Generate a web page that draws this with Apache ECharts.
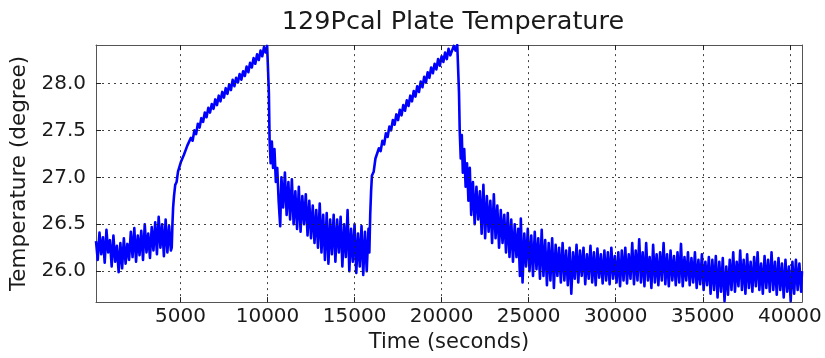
<!DOCTYPE html>
<html>
<head>
<meta charset="utf-8">
<script src="https://cdn.jsdelivr.net/npm/echarts@6/dist/echarts.min.js"></script>
<style>
html,body{margin:0;padding:0;background:#fff;}
#chart{width:825px;height:358px;}
</style>
</head>
<body>
<div id="chart"></div>
<script>
// ---- Data: [time (s), temperature (degree)] ----
const baseline1 = [
[150,26.32],[250,26.12],[350,26.41],[450,26.18],[550,26.36],[650,26.09],[750,26.44],[850,26.2],[950,26.33],[1050,26.05],
[1150,26.38],[1250,26.1],[1350,26.27],[1450,25.99],[1550,26.3],[1650,26.03],[1750,26.35],[1850,26.08],[1950,26.29],[2050,26.12],
[2150,26.42],[2250,26.15],[2350,26.46],[2450,26.1],[2550,26.38],[2650,26.17],[2750,26.43],[2850,26.12],[2950,26.5],[3050,26.2],
[3150,26.4],[3250,26.14],[3350,26.47],[3450,26.22],[3550,26.52],[3650,26.18],[3750,26.58],[3850,26.25],[3950,26.5],[4050,26.16],
[4150,26.55],[4250,26.2],[4350,26.48],[4450,26.22]
];
const rise1 = [
[4500,26.25],[4540,26.5],[4580,26.68],[4630,26.8],[4700,26.92],[4780,26.95],[4860,27.06],[4940,27.07],[5020,27.16],[5100,27.15],
[5200,27.24],[5300,27.24],[5400,27.34],[5500,27.32],[5600,27.42],[5700,27.39],[5800,27.5],[5900,27.46],[6000,27.57],[6100,27.53],
[6200,27.63],[6300,27.59],[6400,27.69],[6500,27.64],[6600,27.74],[6700,27.69],[6800,27.78],[6900,27.73],[7000,27.83],[7100,27.77],
[7200,27.87],[7300,27.81],[7400,27.91],[7500,27.85],[7600,27.95],[7700,27.89],[7800,27.99],[7900,27.93],[8000,28.04],[8100,27.97],
[8200,28.06],[8300,28.01],[8400,28.1],[8500,28.04],[8600,28.13],[8700,28.08],[8800,28.18],[8900,28.12],[9000,28.22],[9100,28.17],
[9200,28.27],[9300,28.21],[9400,28.31],[9500,28.25],[9600,28.35],[9700,28.29],[9800,28.39],[9900,28.33],[9980,28.4],[10040,28.41]
];
const decay1 = [
[10080,27.9],[10120,27.4],[10180,27.15],[10250,27.38],[10320,27.1],[10400,27.3],[10480,26.95],[10560,27.1],[10640,26.75],[10730,26.48],
[10800,27.0],[10900,26.68],[11000,27.05],[11100,26.6],[11200,26.95],[11300,26.55],[11400,26.98],[11500,26.5],[11600,26.85],[11700,26.45],
[11800,26.9],[11900,26.42],[12000,26.8],[12100,26.5],[12200,26.82],[12300,26.38],[12400,26.75],[12500,26.35],[12600,26.7],[12700,26.3],
[12800,26.65],[12900,26.25],[13000,26.72],[13100,26.2],[13200,26.6],[13300,26.12],[13400,26.62],[13500,26.08],[13600,26.55],[13700,26.18],
[13800,26.6],[13900,26.1],[14000,26.55],[14100,26.2],[14200,26.58],[14300,26.05],[14400,26.5],[14500,26.15],[14600,26.65],[14700,26.0],
[14800,26.45],[14900,26.1],[15000,26.5],[15100,25.98],[15200,26.4],[15300,26.05],[15400,26.48],[15500,25.96],[15600,26.42],[15700,26.0],
[15800,26.45]
];
const rise2 = [
[15850,26.2],[15900,26.6],[15950,26.85],[16000,27.02],[16100,27.06],[16200,27.2],[16300,27.18],[16400,27.31],[16500,27.28],[16600,27.39],
[16700,27.35],[16800,27.47],[16900,27.43],[17000,27.54],[17100,27.5],[17200,27.61],[17300,27.56],[17400,27.67],[17500,27.61],[17600,27.72],
[17700,27.66],[17800,27.77],[17900,27.71],[18000,27.82],[18100,27.76],[18200,27.87],[18300,27.81],[18400,27.92],[18500,27.86],[18600,27.97],
[18700,27.91],[18800,28.02],[18900,27.96],[19000,28.07],[19100,28.01],[19200,28.12],[19300,28.06],[19400,28.17],[19500,28.11],[19600,28.21],
[19700,28.15],[19800,28.26],[19900,28.19],[20000,28.29],[20100,28.23],[20200,28.33],[20300,28.26],[20400,28.37],[20500,28.3],[20600,28.35],
[20700,28.4],[20800,28.35],[20900,28.41],[20960,28.41]
];
const decay2 = [
[21000,27.9],[21040,27.5],[21100,27.2],[21160,27.45],[21220,27.05],[21300,27.3],[21380,26.9],[21460,27.15],[21540,26.75],[21620,27.1],
[21700,26.6],[21800,26.95],[21900,26.5],[22000,26.9],[22100,26.55],[22200,26.85],[22300,26.4],[22400,26.92],[22500,26.35],[22600,26.8],
[22700,26.42],[22800,26.75],[22900,26.3],[23000,26.82],[23100,26.35],[23200,26.7],[23300,26.25],[23400,26.65],[23500,26.3],[23600,26.6],
[23700,26.2],[23800,26.62],[23900,26.15],[24000,26.55],[24100,26.1],[24200,26.5],[24300,26.15],[24400,26.45],[24500,25.95],[24550,26.56],
[24650,25.88],[24750,26.4],[24850,26.05],[24950,26.45],[25050,26.0],[25150,26.38],[25250,25.95],[25350,26.42],[25450,26.02],[25550,26.35],
[25650,25.92],[25750,26.44],[25850,25.95],[25950,26.33],[26050,25.85],[26150,26.3],[26250,25.9],[26350,26.35],[26450,25.82],[26550,26.28],
[26650,25.95],[26750,26.25],[26850,25.88],[26950,26.3],[27050,25.9],[27150,26.22],[27250,25.85],[27350,26.25],[27450,25.76],[27550,26.2],
[27650,25.92],[27750,26.28],[27850,25.88],[27950,26.22],[28050,25.95],[28150,26.25],[28250,25.86],[28350,26.18],[28450,25.92],[28550,26.27],
[28650,25.88],[28750,26.2],[28850,25.85],[28950,26.24],[29050,25.93],[29150,26.18],[29250,25.87],[29350,26.22],[29450,25.9],[29550,26.2],
[29650,25.86],[29750,26.25],[29850,25.92],[29950,26.16],[30050,25.88],[30150,26.2],[30250,25.84],[30350,26.22],[30450,25.9],[30550,26.25],
[30650,25.87],[30750,26.18],[30850,25.92],[30950,26.3],[31050,25.86],[31150,26.22],[31250,25.9],[31350,26.34],[31450,25.88],[31550,26.2],
[31650,25.84],[31750,26.3],[31850,25.9],[31950,26.15],[32050,25.82],[32150,26.28],[32250,25.88],[32350,26.18],[32450,25.85],[32550,26.2],
[32650,25.9],[32750,26.3],[32850,25.86],[32950,26.18],[33050,25.84],[33150,26.22],[33250,25.9],[33350,26.16],[33450,25.85],[33550,26.2],
[33650,25.88],[33750,26.29],[33850,25.84],[33950,26.15],[34050,25.9],[34150,26.2],[34250,25.85],[34350,26.14],[34450,25.88],[34550,26.2],
[34650,25.82],[34750,26.12],[34850,25.86],[34950,26.18],[35050,25.8],[35150,26.1],[35250,25.85],[35350,26.15],[35450,25.76],[35550,26.12],
[35650,25.8],[35750,26.16],[35850,25.72],[35950,26.1],[36050,25.78],[36150,26.14],[36250,25.68],[36350,26.05],[36450,25.75],[36550,26.12],
[36650,25.8],[36750,26.2],[36850,25.78],[36950,26.1],[37050,25.84],[37150,26.22],[37250,25.8],[37350,26.12],[37450,25.76],[37550,26.18],
[37650,25.82],[37750,26.1],[37850,25.78],[37950,26.15],[38050,25.84],[38150,26.2],[38250,25.8],[38350,26.08],[38450,25.76],[38550,26.16],
[38650,25.82],[38750,26.12],[38850,25.78],[38950,26.2],[39050,25.8],[39150,26.1],[39250,25.75],[39350,26.14],[39450,25.8],[39550,26.08],
[39650,25.72],[39750,26.12],[39850,25.78],[39950,26.05],[40050,25.68],[40150,26.1],[40250,25.76],[40350,26.12],[40450,25.8],[40550,26.08],
[40650,25.78],[40700,26.0]
];
const xTicks = [5000,10000,15000,20000,25000,30000,35000,40000];
const yTicks = [26.0,26.5,27.0,27.5,28.0];
const xRange = [150, 40700];
const yRange = [25.67, 28.41];
const titleText = '129Pcal Plate Temperature';
const xName = 'Time (seconds)';
const yName = 'Temperature (degree)';

const series = baseline1.concat(rise1, decay1, rise2, decay2);
const FONT = 'DejaVu Sans';
const TXT = '#1a1a1a';
const FRAME = '#555';

function axisCommon(ticks) {
  return {
    axisLine: {show: true, onZero: false, lineStyle: {color: FRAME, width: 1}},
    axisTick: {show: true, inside: true, length: 5, customValues: ticks, lineStyle: {color: '#222', width: 1}},
    splitLine: {show: false}
  };
}

const chart = echarts.init(document.getElementById('chart'), null, {renderer: 'canvas'});
chart.setOption({
  animation: false,
  backgroundColor: '#fff',
  title: {
    text: titleText, left: 448, top: 4, textAlign: 'center',
    textStyle: {fontFamily: FONT, fontSize: 25.5, fontWeight: 'normal', color: TXT}
  },
  grid: {left: 96, right: 23, top: 45, bottom: 51, show: false},
  xAxis: [
    Object.assign({
      type: 'value', min: xRange[0], max: xRange[1], position: 'bottom',
      name: xName, nameLocation: 'middle', nameGap: 29,
      nameTextStyle: {fontFamily: FONT, fontSize: 21, color: TXT},
      axisLabel: {customValues: xTicks, margin: 5, fontFamily: FONT, fontSize: 20, color: TXT, formatter: v => String(v)}
    }, axisCommon(xTicks)),
    Object.assign({
      type: 'value', min: xRange[0], max: xRange[1], position: 'top',
      axisLabel: {show: false}
    }, axisCommon(xTicks))
  ],
  yAxis: [
    Object.assign({
      type: 'value', min: yRange[0], max: yRange[1], position: 'left',
      name: yName, nameLocation: 'middle', nameGap: 63,
      nameTextStyle: {fontFamily: FONT, fontSize: 21.5, color: TXT},
      axisLabel: {customValues: yTicks, margin: 10, fontFamily: FONT, fontSize: 20, color: TXT, formatter: v => v.toFixed(1)}
    }, axisCommon(yTicks)),
    Object.assign({
      type: 'value', min: yRange[0], max: yRange[1], position: 'right',
      axisLabel: {show: false}
    }, axisCommon(yTicks))
  ],
  series: [{
    type: 'line',
    data: series,
    xAxisIndex: 0, yAxisIndex: 0,
    showSymbol: false,
    symbol: 'none',
    sampling: null,
    lineStyle: {color: '#0000ff', width: 2.6, join: 'round'},
    z: 2,
    markLine: {
      silent: true,
      symbol: ['none', 'none'],
      label: {show: false},
      z: 5,
      lineStyle: {color: '#222', width: 1, type: [2, 4], opacity: 0.85},
      data: xTicks.map(v => ({xAxis: v})).concat(yTicks.map(v => ({yAxis: v})))
    }
  }]
});
</script>
</body>
</html>
